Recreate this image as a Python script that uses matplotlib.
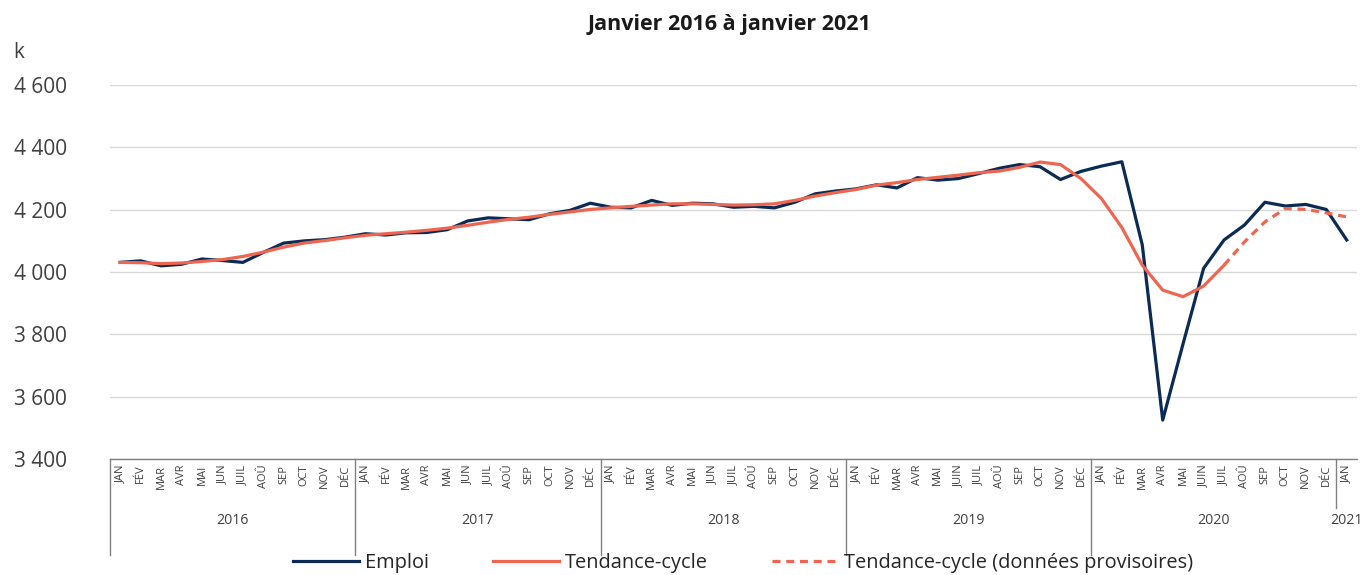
import matplotlib.pyplot as plt
import matplotlib.transforms as mtransforms
from matplotlib.ticker import FuncFormatter

plt.rcParams['font.family'] = ['Open Sans', 'DejaVu Sans']

annees = ['2016', '2017', '2018', '2019', '2020', '2021']
mois_a = ['JAN', 'FÉV', 'MAR', 'AVR', 'MAI', 'JUN', 'JUIL', 'AOÛ', 'SEP', 'OCT', 'NOV', 'DÉC']
mois_b = ['JAN', 'FÉV', 'MAR', 'AVR', 'MAI', 'JUIN', 'JUIL', 'AOÛ', 'SEP', 'OCT', 'NOV', 'DÉC']
mois = mois_a * 3 + mois_b * 2 + ['JAN']

# Emploi (milliers)
emploi = [4031, 4036, 4020, 4025, 4042, 4037, 4031, 4063, 4093, 4100, 4104, 4112,
          4123, 4119, 4126, 4127, 4136, 4164, 4174, 4171, 4168, 4187, 4198, 4221,
          4208, 4206, 4230, 4214, 4221, 4219, 4208, 4211, 4206, 4224, 4251, 4260,
          4267, 4280, 4270, 4303, 4295, 4300, 4316, 4333, 4345, 4338, 4297, 4323,
          4340, 4354, 4087, 3525, 3771, 4012, 4103, 4151, 4224, 4212, 4217, 4201,
          4103]

# Tendance-cycle, jan 2016 a juil 2020
tendance = [4031, 4030, 4027, 4029, 4034, 4040, 4050, 4064, 4080, 4093, 4101, 4110,
            4118, 4123, 4128, 4134, 4141, 4150, 4160, 4169, 4176, 4185, 4193, 4201,
            4206, 4211, 4215, 4219, 4219, 4217, 4215, 4216, 4219, 4230, 4244, 4255,
            4265, 4279, 4287, 4297, 4304, 4311, 4319, 4324, 4336, 4353, 4345, 4300,
            4236, 4143, 4022, 3942, 3921, 3955, 4022]
# Tendance-cycle provisoire, juil 2020 a jan 2021
tendance_prov = [4022, 4097, 4161, 4204, 4201, 4190, 4177]

bleu = '#0b2b55'
orange = '#ef6650'
gris_txt = '#404040'

fig = plt.figure(figsize=(13.61, 5.75), dpi=100)
ax = fig.add_axes([0.0808, 0.2017, 0.9162, 0.6503])

x = list(range(len(emploi)))
ax.plot(x, emploi, color=bleu, lw=2.3, label='Emploi', zorder=3)
ax.plot(x[:len(tendance)], tendance, color=orange, lw=2.3, label='Tendance-cycle', zorder=4)
x0 = len(tendance) - 1
ax.plot(x[x0:x0 + len(tendance_prov)], tendance_prov, color=orange, lw=2.3,
        dashes=(2.5, 1.8), label='Tendance-cycle (données provisoires)', zorder=4)

ax.set_xlim(-0.5, len(emploi) - 0.5)
ax.set_ylim(3400, 4600)
ax.set_yticks(range(3400, 4601, 200))
ax.yaxis.set_major_formatter(FuncFormatter(lambda v, p: f'{int(v):,}'.replace(',', ' ')))
ax.tick_params(axis='y', length=0, pad=31, labelsize=15, labelcolor=gris_txt)
ax.grid(axis='y', color='#d9d9d9', lw=1)
ax.set_axisbelow(True)
for s in ['left', 'right', 'top']:
    ax.spines[s].set_visible(False)
ax.spines['bottom'].set_color('#808080')
ax.spines['bottom'].set_linewidth(1)

# axe des categories : mois puis annees
ax.set_xticks(x)
ax.set_xticklabels(mois, rotation=90, fontsize=8, color=gris_txt, va='top')
ax.tick_params(axis='x', length=0, pad=4)

trans = mtransforms.blended_transform_factory(ax.transData, ax.transAxes)
for k in range(len(annees)):
    debut = k * 12 - 0.5
    bas = -0.257 if k < len(annees) - 1 else -0.131
    ax.plot([debut, debut], [0, bas], color='#808080', lw=1, transform=trans, clip_on=False)
    if k < len(annees) - 1:
        centre = k * 12 + 5.5
    else:
        centre = k * 12
    ax.text(centre, -0.165, annees[k], transform=trans, ha='center', va='center',
            fontsize=10.2, color=gris_txt)

fig.text(0.0095, 0.908, 'k', fontsize=15, color=gris_txt, va='center', ha='left')
fig.text(0.536, 0.958, 'Janvier 2016 à janvier 2021', fontsize=15.5, fontweight='bold',
         color='#1a1a1a', ha='center', va='center')

fig.legend(loc='center', bbox_to_anchor=(0.546, 0.021), ncol=3, frameon=False,
           fontsize=14.4, handlelength=3.3, handletextpad=0.3, columnspacing=3.2,
           labelcolor='#262626')

fig.savefig('out.png', dpi=100)
